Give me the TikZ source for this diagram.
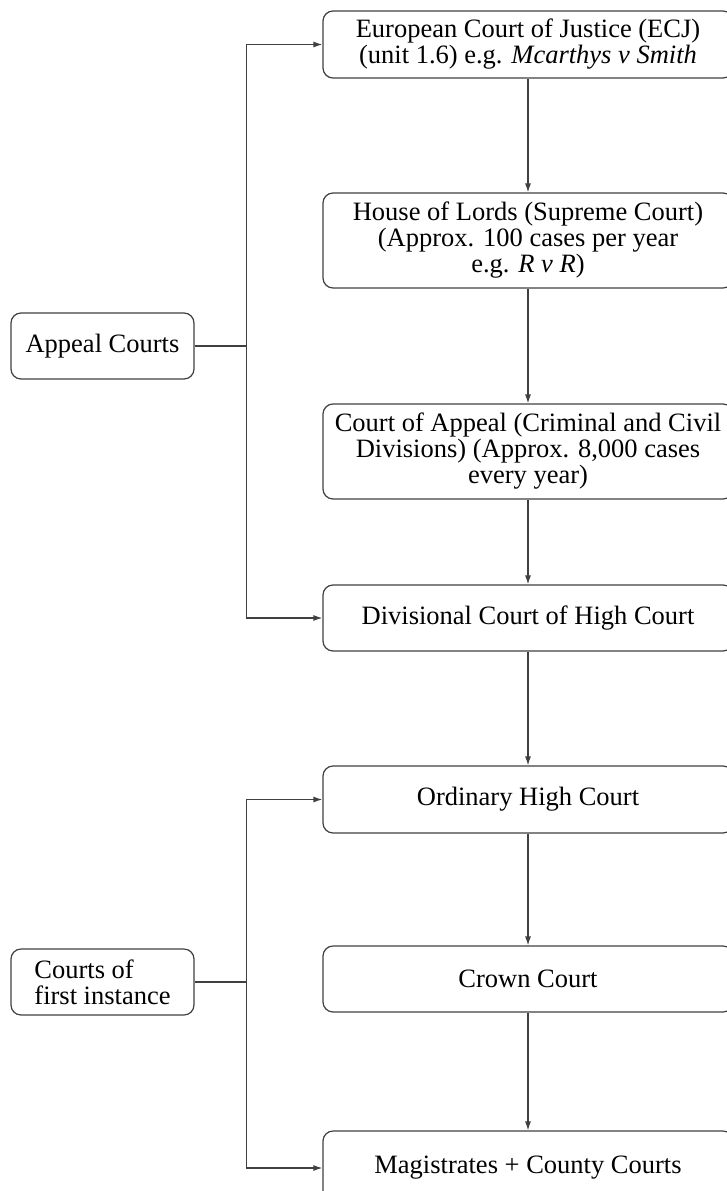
\documentclass[tikz,border=0pt]{standalone}
\usepackage{fontspec}
\setmainfont{Liberation Serif}
\usetikzlibrary{arrows.meta}
\begin{document}
\begin{tikzpicture}[x=1pt,y=-1pt,>={Latex[length=9pt,width=6pt]},line width=1.2pt]
   \useasboundingbox (0,0) rectangle (727,1191);
   \clip (0,0) rectangle (727,1191);
   \tikzstyle{court}=[rectangle, rounded corners=10pt, draw=black!75, minimum width=410pt, align=center, inner sep=0pt, font=\fontsize{26.5}{26}\selectfont]
   \tikzstyle{group}=[rectangle, rounded corners=10pt, draw=black!75, minimum width=183pt, minimum height=66pt, inner sep=0pt, font=\fontsize{26.5}{26}\selectfont]
   \tikzstyle{link}=[draw=black!75, ->]
   \node[court, minimum height=67pt] (ecj) at (528,44.5) {European Court of Justice (ECJ)\\(unit 1.6) e.g. \textit{Mcarthys v Smith}};
   \node[court, minimum height=95pt] (lords) at (528,240.5) {House of Lords (Supreme Court)\\(Approx. 100 cases per year\\e.g. \textit{R v R})};
   \node[court, minimum height=95pt] (appeal) at (528,451.5) {Court of Appeal (Criminal and Civil\\Divisions) (Approx. 8,000 cases\\every year)};
   \node[court, minimum height=66pt] (divisional) at (528,618) {Divisional Court of High Court};
   \node[court, minimum height=67pt] (high) at (528,799.5) {Ordinary High Court};
   \node[court, minimum height=66pt] (crown) at (528,979) {Crown Court};
   \node[court, minimum height=74pt] (magistrates) at (528,1168) {Magistrates + County Courts};
   \node[group] (appealgrp) at (102.5,346) {Appeal Courts};
   \node[group, align=left] (firstgrp) at (102.5,982) {Courts of\\first instance};
   \foreach \a/\b in {ecj/lords,lords/appeal,appeal/divisional,divisional/high,high/crown,crown/magistrates} {
       \path (\a) edge[link] (\b);
   }
   \draw[link] (appealgrp.east) -- ++(52,0) coordinate (ajoint) |- (ecj.west);
   \draw[link] (ajoint) |- (divisional.west);
   \draw[link] (firstgrp.east) -- ++(52,0) coordinate (fjoint) |- (high.west);
   \draw[link] (fjoint) |- (magistrates.west);
\end{tikzpicture}
\end{document}
